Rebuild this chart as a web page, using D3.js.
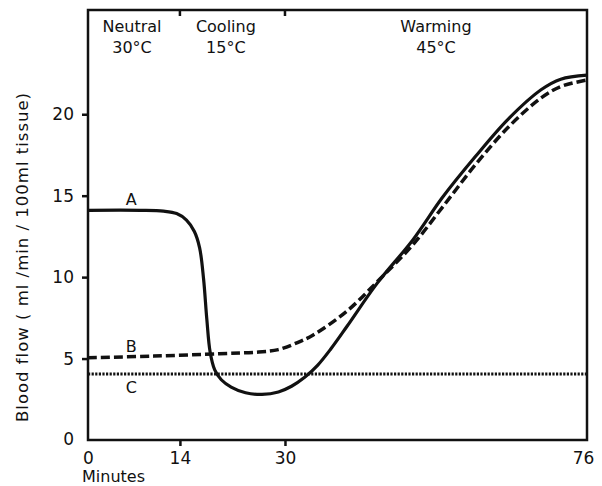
<!DOCTYPE html>
<html>
<head>
<meta charset="utf-8">
<script src="https://cdn.jsdelivr.net/npm/d3@7"></script>
<style>
  body { margin: 0; background: #fff; }
  text { font-family: "DejaVu Sans", sans-serif; fill: #111; }
</style>
</head>
<body>
<div id="graph"></div>
<script>

// curve A (solid), B (dashed), C (dotted) : [minutes, blood flow]
var curveA = [[0,14.1],[8,14.1],[11.5,14.05],[13.5,13.9],[15,13.5],[16.2,12.8],[17,11.8],
              [17.6,9.9],[18.1,7.4],[18.6,5.4],[19.3,4.3],[20.3,3.7],[21.8,3.25],[24,2.9],
              [26.5,2.8],[29,2.95],[31,3.3],[33,3.85],[35,4.6],[37,5.6],[39.4,6.95],[44,9.6],
              [49.5,12.3],[54,14.9],[59,17.4],[64,19.7],[69,21.5],[72,22.15],[76,22.4]];
var curveB = [[0,5.05],[10,5.15],[20,5.3],[26,5.4],[29,5.55],[32,6.0],[34.3,6.45],[39.4,7.9],
              [44.5,9.9],[49.5,12.0],[54,14.3],[59,16.9],[64,19.2],[69,21.0],[72,21.7],[76,22.1]];
var curveC = [[0,4.05],[76,4.05]];

var yTicks = [0, 5, 10, 15, 20];
var xTicks = [0, 14, 30, 76];
var phases = [
  {name: "Neutral", temp: "30\u00b0C", at: 6.7},
  {name: "Cooling", temp: "15\u00b0C", at: 21},
  {name: "Warming", temp: "45\u00b0C", at: 53}
];
var curveLabels = [
  {label: "A", x: 6.6, y: 14.4},
  {label: "B", x: 6.6, y: 5.4},
  {label: "C", x: 6.6, y: 2.9}
];

var width = 602, height = 486;
var margin = {top: 10, right: 15, bottom: 46, left: 88};

var svg = d3.select("#graph").append("svg")
    .attr("width", width)
    .attr("height", height);

var x = d3.scaleLinear().domain([0, 76]).range([margin.left, width - margin.right]);
var y = d3.scaleLinear().domain([0, 26.4]).range([height - margin.bottom, margin.top]);

// frame
svg.append("rect")
    .attr("x", x(0)).attr("y", y(26.4))
    .attr("width", x(76) - x(0)).attr("height", y(0) - y(26.4))
    .attr("fill", "none").attr("stroke", "#111").attr("stroke-width", 2.5);

// y axis
var yAxis = d3.axisLeft(y).tickValues(yTicks.filter(function(d){ return d > 0; }))
    .tickSize(6).tickPadding(8).tickFormat(d3.format("d"));
var gy = svg.append("g").attr("transform", "translate(" + x(0) + ",0)").call(yAxis);
gy.select(".domain").remove();
gy.selectAll("line").attr("stroke", "#111").attr("stroke-width", 2.5);
gy.selectAll("text").attr("font-size", 17).style("font-family", "DejaVu Sans");

svg.append("text")
    .attr("x", x(0) - 14).attr("y", y(0) + 5)
    .attr("text-anchor", "end").attr("font-size", 17)
    .text("0");

// x axis
var xAxis = d3.axisBottom(x).tickValues(xTicks).tickSize(6).tickPadding(6).tickFormat(d3.format("d"));
var gx = svg.append("g").attr("transform", "translate(0," + y(0) + ")").call(xAxis);
gx.select(".domain").remove();
gx.selectAll("line").attr("stroke", "#111").attr("stroke-width", 2.5)
    .attr("display", function(d){ return (d == 0 || d == 76) ? "none" : null; });
gx.selectAll("text").attr("font-size", 17).style("font-family", "DejaVu Sans")
    .attr("dx", function(d){ return d == 76 ? -4 : 0; });

// top inner ticks at phase boundaries
svg.selectAll(".topTick").data([14, 30]).enter().append("line")
    .attr("class", "topTick")
    .attr("x1", function(d){ return x(d); }).attr("x2", function(d){ return x(d); })
    .attr("y1", y(26.4)).attr("y2", y(26.4) + 6)
    .attr("stroke", "#111").attr("stroke-width", 2.5);

svg.append("text")
    .attr("x", x(0) - 6).attr("y", 482)
    .attr("font-size", 16)
    .text("Minutes");

svg.append("text")
    .attr("transform", "translate(28,257) rotate(-90)")
    .attr("text-anchor", "middle").attr("font-size", 16.5)
    .attr("letter-spacing", 1)
    .text("Blood flow ( ml /min / 100ml tissue)");

// phase labels
var ph = svg.selectAll(".phase").data(phases).enter().append("g").attr("class", "phase");
ph.append("text")
    .attr("x", function(d){ return x(d.at); }).attr("y", 32)
    .attr("text-anchor", "middle").attr("font-size", 16)
    .text(function(d){ return d.name; });
ph.append("text")
    .attr("x", function(d){ return x(d.at); }).attr("y", 53)
    .attr("text-anchor", "middle").attr("font-size", 16)
    .text(function(d){ return d.temp; });

// curves
var line = d3.line()
    .x(function(d){ return x(d[0]); })
    .y(function(d){ return y(d[1]); })
    .curve(d3.curveCatmullRom.alpha(0.5));

svg.append("path").datum(curveC)
    .attr("d", line).attr("fill", "none")
    .attr("stroke", "#111").attr("stroke-width", 3)
    .attr("stroke-dasharray", "2.2,1.4");

svg.append("path").datum(curveB)
    .attr("d", line).attr("fill", "none")
    .attr("stroke", "#111").attr("stroke-width", 3.5)
    .attr("stroke-dasharray", "9,4");

svg.append("path").datum(curveA)
    .attr("d", line).attr("fill", "none")
    .attr("stroke", "#111").attr("stroke-width", 3.2);

svg.selectAll(".clabel").data(curveLabels).enter().append("text")
    .attr("class", "clabel")
    .attr("x", function(d){ return x(d.x); })
    .attr("y", function(d){ return y(d.y); })
    .attr("text-anchor", "middle").attr("font-size", 16)
    .text(function(d){ return d.label; });

</script>
</body>
</html>
